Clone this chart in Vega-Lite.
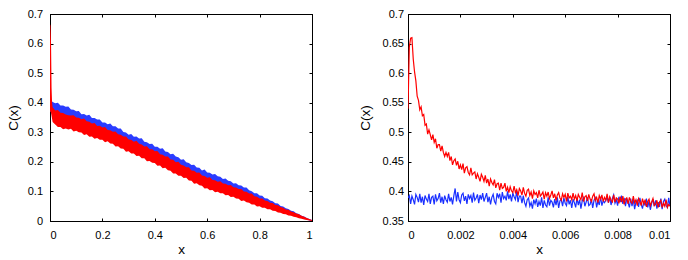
{
"$schema":"https://vega.github.io/schema/vega-lite/v6.json",
"background":"white",
"padding":{"left":5,"top":7,"right":8,"bottom":2},
"spacing":44,
"config":{"view":{"stroke":"black","strokeWidth":1},
"axis":{"grid":false,"labelFont":"Liberation Sans","labelFontSize":11,"labelColor":"black","titleFont":"Liberation Sans","titleFontSize":13.5,"titleFontWeight":"normal","titleColor":"black","tickColor":"black","domainColor":"black","tickSize":-3,"format":"~g"}},
"datasets":{
"L":[
{"x":0,"bhi":0.41,"blo":0.37,"rhi":0.665,"rlo":0.37},
{"x":0.002,"bhi":0.408,"blo":0.37,"rhi":0.66,"rlo":0.37},
{"x":0.004,"bhi":0.406,"blo":0.37,"rhi":0.6,"rlo":0.365},
{"x":0.006,"bhi":0.405,"blo":0.365,"rhi":0.45,"rlo":0.355},
{"x":0.008,"bhi":0.404,"blo":0.362,"rhi":0.4,"rlo":0.345},
{"x":0.01,"bhi":0.402,"blo":0.36,"rhi":0.385,"rlo":0.335},
{"x":0.02,"bhi":0.398,"blo":0.355,"rhi":0.374,"rlo":0.326},
{"x":0.03,"bhi":0.4,"blo":0.352,"rhi":0.375,"rlo":0.318},
{"x":0.04,"bhi":0.391,"blo":0.35,"rhi":0.366,"rlo":0.318},
{"x":0.05,"bhi":0.391,"blo":0.347,"rhi":0.365,"rlo":0.31},
{"x":0.06,"bhi":0.386,"blo":0.345,"rhi":0.36,"rlo":0.313},
{"x":0.07,"bhi":0.387,"blo":0.342,"rhi":0.358,"rlo":0.309},
{"x":0.08,"bhi":0.377,"blo":0.34,"rhi":0.357,"rlo":0.312},
{"x":0.09,"bhi":0.376,"blo":0.335,"rhi":0.358,"rlo":0.303},
{"x":0.1,"bhi":0.371,"blo":0.33,"rhi":0.35,"rlo":0.305},
{"x":0.11,"bhi":0.372,"blo":0.327,"rhi":0.349,"rlo":0.3},
{"x":0.12,"bhi":0.361,"blo":0.325,"rhi":0.344,"rlo":0.299},
{"x":0.13,"bhi":0.362,"blo":0.32,"rhi":0.347,"rlo":0.291},
{"x":0.14,"bhi":0.357,"blo":0.315,"rhi":0.337,"rlo":0.293},
{"x":0.15,"bhi":0.359,"blo":0.312,"rhi":0.336,"rlo":0.285},
{"x":0.16,"bhi":0.348,"blo":0.31,"rhi":0.33,"rlo":0.286},
{"x":0.17,"bhi":0.348,"blo":0.305,"rhi":0.331,"rlo":0.278},
{"x":0.18,"bhi":0.343,"blo":0.3,"rhi":0.321,"rlo":0.281},
{"x":0.19,"bhi":0.343,"blo":0.297,"rhi":0.322,"rlo":0.275},
{"x":0.2,"bhi":0.333,"blo":0.295,"rhi":0.316,"rlo":0.275},
{"x":0.21,"bhi":0.333,"blo":0.29,"rhi":0.318,"rlo":0.266},
{"x":0.22,"bhi":0.327,"blo":0.285,"rhi":0.308,"rlo":0.27},
{"x":0.23,"bhi":0.33,"blo":0.282,"rhi":0.307,"rlo":0.262},
{"x":0.24,"bhi":0.32,"blo":0.28,"rhi":0.302,"rlo":0.261},
{"x":0.25,"bhi":0.32,"blo":0.275,"rhi":0.303,"rlo":0.252},
{"x":0.26,"bhi":0.313,"blo":0.27,"rhi":0.293,"rlo":0.253},
{"x":0.27,"bhi":0.313,"blo":0.265,"rhi":0.292,"rlo":0.245},
{"x":0.28,"bhi":0.301,"blo":0.26,"rhi":0.286,"rlo":0.244},
{"x":0.29,"bhi":0.299,"blo":0.255,"rhi":0.286,"rlo":0.234},
{"x":0.3,"bhi":0.292,"blo":0.25,"rhi":0.276,"rlo":0.236},
{"x":0.31,"bhi":0.294,"blo":0.247,"rhi":0.275,"rlo":0.228},
{"x":0.32,"bhi":0.285,"blo":0.245,"rhi":0.268,"rlo":0.228},
{"x":0.33,"bhi":0.286,"blo":0.24,"rhi":0.271,"rlo":0.22},
{"x":0.34,"bhi":0.279,"blo":0.235,"rhi":0.261,"rlo":0.221},
{"x":0.35,"bhi":0.28,"blo":0.232,"rhi":0.259,"rlo":0.212},
{"x":0.36,"bhi":0.268,"blo":0.23,"rhi":0.252,"rlo":0.212},
{"x":0.37,"bhi":0.266,"blo":0.225,"rhi":0.253,"rlo":0.202},
{"x":0.38,"bhi":0.26,"blo":0.22,"rhi":0.243,"rlo":0.203},
{"x":0.39,"bhi":0.261,"blo":0.215,"rhi":0.243,"rlo":0.197},
{"x":0.4,"bhi":0.251,"blo":0.21,"rhi":0.236,"rlo":0.196},
{"x":0.41,"bhi":0.251,"blo":0.205,"rhi":0.237,"rlo":0.187},
{"x":0.42,"bhi":0.244,"blo":0.2,"rhi":0.226,"rlo":0.188},
{"x":0.43,"bhi":0.246,"blo":0.195,"rhi":0.224,"rlo":0.178},
{"x":0.44,"bhi":0.235,"blo":0.19,"rhi":0.218,"rlo":0.18},
{"x":0.45,"bhi":0.233,"blo":0.185,"rhi":0.218,"rlo":0.172},
{"x":0.46,"bhi":0.226,"blo":0.18,"rhi":0.208,"rlo":0.17},
{"x":0.47,"bhi":0.227,"blo":0.175,"rhi":0.207,"rlo":0.161},
{"x":0.48,"bhi":0.218,"blo":0.17,"rhi":0.199,"rlo":0.161},
{"x":0.49,"bhi":0.216,"blo":0.167,"rhi":0.2,"rlo":0.153},
{"x":0.5,"bhi":0.207,"blo":0.165,"rhi":0.19,"rlo":0.153},
{"x":0.51,"bhi":0.209,"blo":0.16,"rhi":0.188,"rlo":0.145},
{"x":0.52,"bhi":0.199,"blo":0.155,"rhi":0.182,"rlo":0.146},
{"x":0.53,"bhi":0.196,"blo":0.15,"rhi":0.182,"rlo":0.137},
{"x":0.54,"bhi":0.189,"blo":0.145,"rhi":0.171,"rlo":0.136},
{"x":0.55,"bhi":0.19,"blo":0.14,"rhi":0.17,"rlo":0.126},
{"x":0.56,"bhi":0.181,"blo":0.135,"rhi":0.163,"rlo":0.128},
{"x":0.57,"bhi":0.18,"blo":0.132,"rhi":0.164,"rlo":0.121},
{"x":0.58,"bhi":0.171,"blo":0.13,"rhi":0.154,"rlo":0.119},
{"x":0.59,"bhi":0.174,"blo":0.125,"rhi":0.152,"rlo":0.11},
{"x":0.6,"bhi":0.164,"blo":0.12,"rhi":0.146,"rlo":0.111},
{"x":0.61,"bhi":0.163,"blo":0.117,"rhi":0.148,"rlo":0.104},
{"x":0.62,"bhi":0.157,"blo":0.115,"rhi":0.139,"rlo":0.105},
{"x":0.63,"bhi":0.159,"blo":0.112,"rhi":0.138,"rlo":0.097},
{"x":0.64,"bhi":0.151,"blo":0.11,"rhi":0.133,"rlo":0.099},
{"x":0.65,"bhi":0.15,"blo":0.107,"rhi":0.134,"rlo":0.094},
{"x":0.66,"bhi":0.142,"blo":0.105,"rhi":0.127,"rlo":0.094},
{"x":0.67,"bhi":0.144,"blo":0.102,"rhi":0.126,"rlo":0.087},
{"x":0.68,"bhi":0.136,"blo":0.1,"rhi":0.121,"rlo":0.088},
{"x":0.69,"bhi":0.134,"blo":0.095,"rhi":0.122,"rlo":0.081},
{"x":0.7,"bhi":0.127,"blo":0.09,"rhi":0.114,"rlo":0.082},
{"x":0.71,"bhi":0.128,"blo":0.087,"rhi":0.113,"rlo":0.076},
{"x":0.72,"bhi":0.121,"blo":0.085,"rhi":0.108,"rlo":0.075},
{"x":0.73,"bhi":0.12,"blo":0.082,"rhi":0.108,"rlo":0.068},
{"x":0.74,"bhi":0.113,"blo":0.08,"rhi":0.1,"rlo":0.069},
{"x":0.75,"bhi":0.113,"blo":0.075,"rhi":0.099,"rlo":0.063},
{"x":0.76,"bhi":0.104,"blo":0.07,"rhi":0.093,"rlo":0.062},
{"x":0.77,"bhi":0.101,"blo":0.067,"rhi":0.093,"rlo":0.056},
{"x":0.78,"bhi":0.094,"blo":0.065,"rhi":0.084,"rlo":0.056},
{"x":0.79,"bhi":0.094,"blo":0.06,"rhi":0.082,"rlo":0.049},
{"x":0.8,"bhi":0.086,"blo":0.055,"rhi":0.076,"rlo":0.05},
{"x":0.81,"bhi":0.085,"blo":0.052,"rhi":0.076,"rlo":0.045},
{"x":0.82,"bhi":0.077,"blo":0.05,"rhi":0.069,"rlo":0.045},
{"x":0.83,"bhi":0.076,"blo":0.047,"rhi":0.068,"rlo":0.04},
{"x":0.84,"bhi":0.069,"blo":0.045,"rhi":0.062,"rlo":0.04},
{"x":0.85,"bhi":0.067,"blo":0.042,"rhi":0.061,"rlo":0.035},
{"x":0.86,"bhi":0.06,"blo":0.04,"rhi":0.054,"rlo":0.034},
{"x":0.87,"bhi":0.059,"blo":0.035,"rhi":0.053,"rlo":0.029},
{"x":0.88,"bhi":0.051,"blo":0.03,"rhi":0.047,"rlo":0.028},
{"x":0.89,"bhi":0.049,"blo":0.027,"rhi":0.045,"rlo":0.024},
{"x":0.9,"bhi":0.043,"blo":0.025,"rhi":0.039,"rlo":0.023},
{"x":0.91,"bhi":0.041,"blo":0.022,"rhi":0.038,"rlo":0.019},
{"x":0.92,"bhi":0.035,"blo":0.02,"rhi":0.032,"rlo":0.018},
{"x":0.93,"bhi":0.033,"blo":0.017,"rhi":0.03,"rlo":0.014},
{"x":0.94,"bhi":0.026,"blo":0.015,"rhi":0.025,"rlo":0.013},
{"x":0.95,"bhi":0.024,"blo":0.012,"rhi":0.023,"rlo":0.009},
{"x":0.96,"bhi":0.018,"blo":0.01,"rhi":0.018,"rlo":0.008},
{"x":0.97,"bhi":0.015,"blo":0.007,"rhi":0.014,"rlo":0.005},
{"x":0.98,"bhi":0.01,"blo":0.005,"rhi":0.01,"rlo":0.003},
{"x":0.99,"bhi":0.007,"blo":0.002,"rhi":0.0065,"rlo":0.0015},
{"x":1,"bhi":0.003,"blo":0,"rhi":0.003,"rlo":0}
],
"R":[
{"x":0,"r":0.540,"b":0.389},{"x":0.00005,"r":0.644,"b":0.393},{"x":0.0001,"r":0.659,"b":0.379},{"x":0.00015,"r":0.660,"b":0.392},{"x":0.0002,"r":0.624,"b":0.386},
{"x":0.00025,"r":0.602,"b":0.378},{"x":0.0003,"r":0.587,"b":0.395},{"x":0.00035,"r":0.561,"b":0.390},{"x":0.0004,"r":0.554,"b":0.382},{"x":0.00045,"r":0.538,"b":0.396},
{"x":0.0005,"r":0.543,"b":0.381},{"x":0.00055,"r":0.528,"b":0.391},{"x":0.0006,"r":0.530,"b":0.377},{"x":0.00065,"r":0.512,"b":0.393},{"x":0.0007,"r":0.514,"b":0.387},
{"x":0.00075,"r":0.497,"b":0.383},{"x":0.0008,"r":0.504,"b":0.396},{"x":0.00085,"r":0.496,"b":0.379},{"x":0.0009,"r":0.487,"b":0.390},{"x":0.00095,"r":0.496,"b":0.392},
{"x":0.001,"r":0.483,"b":0.378},{"x":0.00105,"r":0.489,"b":0.395},{"x":0.0011,"r":0.473,"b":0.384},{"x":0.00115,"r":0.479,"b":0.388},{"x":0.0012,"r":0.479,"b":0.397},
{"x":0.00125,"r":0.468,"b":0.381},{"x":0.0013,"r":0.477,"b":0.391},{"x":0.00135,"r":0.466,"b":0.379},{"x":0.0014,"r":0.459,"b":0.393},{"x":0.00145,"r":0.466,"b":0.386},
{"x":0.0015,"r":0.459,"b":0.382},{"x":0.00155,"r":0.466,"b":0.396},{"x":0.0016,"r":0.452,"b":0.383},{"x":0.00165,"r":0.459,"b":0.390},{"x":0.0017,"r":0.445,"b":0.378},
{"x":0.00175,"r":0.452,"b":0.393},{"x":0.0018,"r":0.455,"b":0.405},{"x":0.00185,"r":0.444,"b":0.383},{"x":0.0019,"r":0.451,"b":0.399},{"x":0.00195,"r":0.438,"b":0.386},
{"x":0.002,"r":0.445,"b":0.381},{"x":0.00205,"r":0.437,"b":0.394},{"x":0.0021,"r":0.447,"b":0.397},{"x":0.00215,"r":0.431,"b":0.384},{"x":0.0022,"r":0.440,"b":0.392},
{"x":0.00225,"r":0.442,"b":0.379},{"x":0.0023,"r":0.432,"b":0.395},{"x":0.00235,"r":0.428,"b":0.388},{"x":0.0024,"r":0.440,"b":0.393},{"x":0.00245,"r":0.428,"b":0.381},
{"x":0.0025,"r":0.431,"b":0.398},{"x":0.00255,"r":0.433,"b":0.385},{"x":0.0026,"r":0.421,"b":0.389},{"x":0.00265,"r":0.430,"b":0.395},{"x":0.0027,"r":0.424,"b":0.380},
{"x":0.00275,"r":0.417,"b":0.394},{"x":0.0028,"r":0.429,"b":0.386},{"x":0.00285,"r":0.424,"b":0.397},{"x":0.0029,"r":0.417,"b":0.383},{"x":0.00295,"r":0.427,"b":0.390},
{"x":0.003,"r":0.414,"b":0.397},{"x":0.00305,"r":0.421,"b":0.382},{"x":0.0031,"r":0.409,"b":0.391},{"x":0.00315,"r":0.421,"b":0.378},{"x":0.0032,"r":0.415,"b":0.390},
{"x":0.00325,"r":0.411,"b":0.395},{"x":0.0033,"r":0.420,"b":0.383},{"x":0.00335,"r":0.406,"b":0.379},{"x":0.0034,"r":0.413,"b":0.397},{"x":0.00345,"r":0.414,"b":0.390},
{"x":0.0035,"r":0.402,"b":0.396},{"x":0.00355,"r":0.414,"b":0.381},{"x":0.0036,"r":0.405,"b":0.399},{"x":0.00365,"r":0.407,"b":0.388},{"x":0.0037,"r":0.414,"b":0.392},
{"x":0.00375,"r":0.400,"b":0.385},{"x":0.0038,"r":0.407,"b":0.400},{"x":0.00385,"r":0.398,"b":0.387},{"x":0.0039,"r":0.408,"b":0.395},{"x":0.00395,"r":0.401,"b":0.383},
{"x":0.004,"r":0.398,"b":0.397},{"x":0.00405,"r":0.409,"b":0.391},{"x":0.0041,"r":0.398,"b":0.386},{"x":0.00415,"r":0.403,"b":0.401},{"x":0.0042,"r":0.393,"b":0.382},
{"x":0.00425,"r":0.405,"b":0.392},{"x":0.0043,"r":0.401,"b":0.392},{"x":0.00435,"r":0.394,"b":0.380},{"x":0.0044,"r":0.407,"b":0.393},{"x":0.00445,"r":0.397,"b":0.381},
{"x":0.0045,"r":0.392,"b":0.375},{"x":0.00455,"r":0.402,"b":0.386},{"x":0.0046,"r":0.404,"b":0.389},{"x":0.00465,"r":0.393,"b":0.375},{"x":0.0047,"r":0.399,"b":0.381},
{"x":0.00475,"r":0.388,"b":0.371},{"x":0.0048,"r":0.401,"b":0.386},{"x":0.00485,"r":0.395,"b":0.379},{"x":0.0049,"r":0.398,"b":0.388},{"x":0.00495,"r":0.389,"b":0.374},
{"x":0.005,"r":0.402,"b":0.383},{"x":0.00505,"r":0.392,"b":0.376},{"x":0.0051,"r":0.395,"b":0.390},{"x":0.00515,"r":0.399,"b":0.372},{"x":0.0052,"r":0.387,"b":0.385},
{"x":0.00525,"r":0.398,"b":0.377},{"x":0.0053,"r":0.392,"b":0.374},{"x":0.00535,"r":0.399,"b":0.390},{"x":0.0054,"r":0.388,"b":0.376},{"x":0.00545,"r":0.394,"b":0.385},
{"x":0.0055,"r":0.401,"b":0.382},{"x":0.00555,"r":0.389,"b":0.373},{"x":0.0056,"r":0.396,"b":0.387},{"x":0.00565,"r":0.385,"b":0.377},{"x":0.0057,"r":0.394,"b":0.390},
{"x":0.00575,"r":0.398,"b":0.372},{"x":0.0058,"r":0.389,"b":0.384},{"x":0.00585,"r":0.385,"b":0.386},{"x":0.0059,"r":0.396,"b":0.375},{"x":0.00595,"r":0.390,"b":0.389},
{"x":0.006,"r":0.395,"b":0.380},{"x":0.00605,"r":0.383,"b":0.376},{"x":0.0061,"r":0.397,"b":0.391},{"x":0.00615,"r":0.389,"b":0.378},{"x":0.0062,"r":0.392,"b":0.385},
{"x":0.00625,"r":0.386,"b":0.372},{"x":0.0063,"r":0.397,"b":0.387},{"x":0.00635,"r":0.387,"b":0.381},{"x":0.0064,"r":0.393,"b":0.373},{"x":0.00645,"r":0.384,"b":0.389},
{"x":0.0065,"r":0.395,"b":0.377},{"x":0.00655,"r":0.390,"b":0.386},{"x":0.0066,"r":0.386,"b":0.371},{"x":0.00665,"r":0.398,"b":0.384},{"x":0.0067,"r":0.383,"b":0.389},
{"x":0.00675,"r":0.391,"b":0.375},{"x":0.0068,"r":0.393,"b":0.382},{"x":0.00685,"r":0.384,"b":0.390},{"x":0.0069,"r":0.395,"b":0.376},{"x":0.00695,"r":0.387,"b":0.378},
{"x":0.007,"r":0.383,"b":0.387},{"x":0.00705,"r":0.392,"b":0.372},{"x":0.0071,"r":0.396,"b":0.385},{"x":0.00715,"r":0.385,"b":0.389},{"x":0.0072,"r":0.390,"b":0.373},
{"x":0.00725,"r":0.381,"b":0.384},{"x":0.0073,"r":0.393,"b":0.377},{"x":0.00735,"r":0.387,"b":0.391},{"x":0.0074,"r":0.394,"b":0.376},{"x":0.00745,"r":0.383,"b":0.384},
{"x":0.0075,"r":0.390,"b":0.381},{"x":0.00755,"r":0.385,"b":0.385},{"x":0.0076,"r":0.396,"b":0.390},{"x":0.00765,"r":0.381,"b":0.381},{"x":0.0077,"r":0.391,"b":0.391},
{"x":0.00775,"r":0.385,"b":0.377},{"x":0.0078,"r":0.382,"b":0.388},{"x":0.00785,"r":0.394,"b":0.394},{"x":0.0079,"r":0.382,"b":0.380},{"x":0.00795,"r":0.389,"b":0.386},
{"x":0.008,"r":0.387,"b":0.376},{"x":0.00805,"r":0.380,"b":0.391},{"x":0.0081,"r":0.391,"b":0.382},{"x":0.00815,"r":0.382,"b":0.393},{"x":0.0082,"r":0.392,"b":0.379},
{"x":0.00825,"r":0.378,"b":0.389},{"x":0.0083,"r":0.387,"b":0.375},{"x":0.00835,"r":0.389,"b":0.388},{"x":0.0084,"r":0.379,"b":0.381},{"x":0.00845,"r":0.390,"b":0.373},
{"x":0.0085,"r":0.383,"b":0.388},{"x":0.00855,"r":0.380,"b":0.375},{"x":0.0086,"r":0.392,"b":0.387},{"x":0.00865,"r":0.381,"b":0.370},{"x":0.0087,"r":0.386,"b":0.382},
{"x":0.00875,"r":0.376,"b":0.385},{"x":0.0088,"r":0.388,"b":0.374},{"x":0.00885,"r":0.383,"b":0.389},{"x":0.0089,"r":0.376,"b":0.378},{"x":0.00895,"r":0.388,"b":0.371},
{"x":0.009,"r":0.379,"b":0.383},{"x":0.00905,"r":0.386,"b":0.376},{"x":0.0091,"r":0.374,"b":0.388},{"x":0.00915,"r":0.383,"b":0.373},{"x":0.0092,"r":0.387,"b":0.384},
{"x":0.00925,"r":0.376,"b":0.369},{"x":0.0093,"r":0.382,"b":0.380},{"x":0.00935,"r":0.388,"b":0.387},{"x":0.0094,"r":0.376,"b":0.375},{"x":0.00945,"r":0.378,"b":0.385},
{"x":0.0095,"r":0.385,"b":0.371},{"x":0.00955,"r":0.373,"b":0.382},{"x":0.0096,"r":0.382,"b":0.374},{"x":0.00965,"r":0.385,"b":0.388},{"x":0.0097,"r":0.373,"b":0.370},
{"x":0.00975,"r":0.380,"b":0.383},{"x":0.0098,"r":0.375,"b":0.387},{"x":0.00985,"r":0.386,"b":0.376},{"x":0.0099,"r":0.373,"b":0.373},{"x":0.00995,"r":0.378,"b":0.389},
{"x":0.01,"r":0.375,"b":0.375}
]},
"hconcat":[
{"width":262,"height":207,"data":{"name":"L"},
"layer":[
{"mark":{"type":"area","color":"#2a3cff","clip":true},
"encoding":{
"x":{"field":"x","type":"quantitative","scale":{"domain":[0,1],"nice":false,"zero":false},"axis":{"orient":"bottom","title":"x","values":[0,0.2,0.4,0.6,0.8,1],"labelPadding":11,"titlePadding":2}},
"y":{"field":"blo","type":"quantitative","scale":{"domain":[0,0.7],"nice":false,"zero":false},"axis":{"orient":"left","title":"C(x)","values":[0,0.1,0.2,0.3,0.4,0.5,0.6,0.7],"labelPadding":10.5,"titlePadding":7}},
"y2":{"field":"bhi"}}},
{"mark":{"type":"area","color":"#ff0000","clip":true},
"encoding":{
"x":{"field":"x","type":"quantitative","axis":{"orient":"top","labels":false,"title":null,"values":[0,0.2,0.4,0.6,0.8,1]}},
"y":{"field":"rlo","type":"quantitative","axis":{"orient":"right","labels":false,"title":null,"values":[0,0.1,0.2,0.3,0.4,0.5,0.6,0.7]}},
"y2":{"field":"rhi"}}}
]},
{"width":262,"height":207,"data":{"name":"R"},
"layer":[
{"mark":{"type":"line","color":"#1a30ff","strokeWidth":1.2,"clip":true},
"encoding":{
"x":{"field":"x","type":"quantitative","scale":{"domain":[0,0.01],"nice":false,"zero":false},"axis":{"orient":"bottom","title":"x","values":[0,0.002,0.004,0.006,0.008,0.01],"labelPadding":11,"titlePadding":2}},
"y":{"field":"b","type":"quantitative","scale":{"domain":[0.35,0.7],"nice":false,"zero":false},"axis":{"orient":"left","title":"C(x)","values":[0.35,0.4,0.45,0.5,0.55,0.6,0.65,0.7],"labelPadding":7.5,"titlePadding":10}}}},
{"mark":{"type":"line","color":"#ff0000","strokeWidth":1.2,"clip":true},
"encoding":{
"x":{"field":"x","type":"quantitative","axis":{"orient":"top","labels":false,"title":null,"values":[0,0.002,0.004,0.006,0.008,0.01]}},
"y":{"field":"r","type":"quantitative","axis":{"orient":"right","labels":false,"title":null,"values":[0.35,0.4,0.45,0.5,0.55,0.6,0.65,0.7]}}}}
]}
]}
